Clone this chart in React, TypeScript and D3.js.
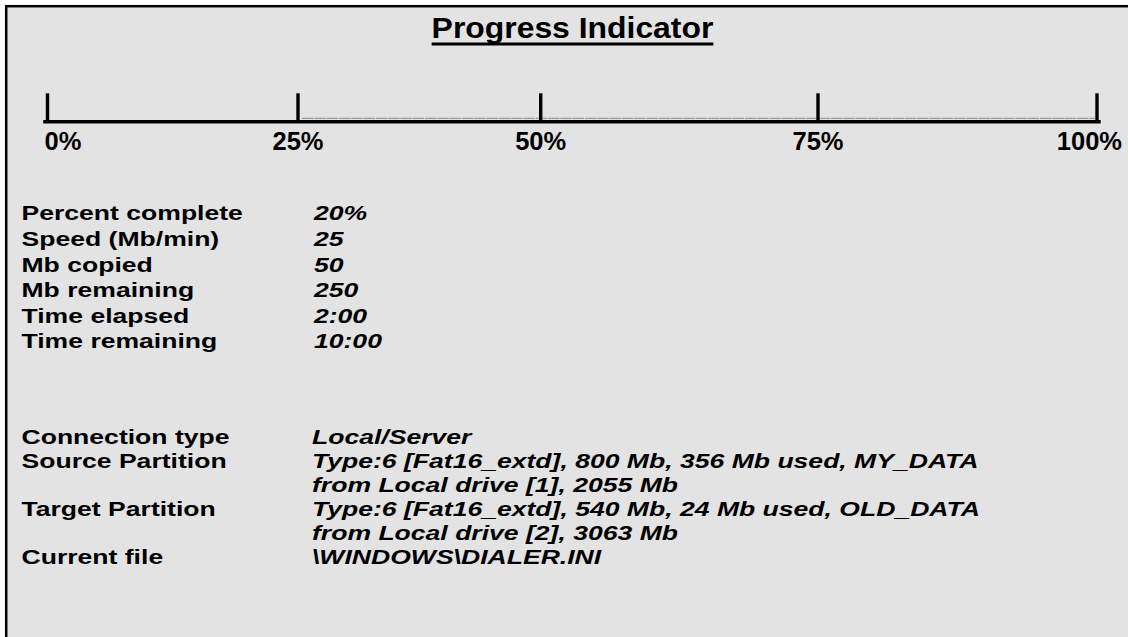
import React, { useEffect, useRef } from "react";
import * as d3 from "d3";

// ---- data ----
const TITLE = "Progress Indicator";
const tickValues = [0, 25, 50, 75, 100];
const tickLabels = ["0%", "25%", "50%", "75%", "100%"];
const statLabels = [
  "Percent complete",
  "Speed (Mb/min)",
  "Mb copied",
  "Mb remaining",
  "Time elapsed",
  "Time remaining",
];
const statValues = ["20%", "25", "50", "250", "2:00", "10:00"];
const infoLabels = [
  "Connection type",
  "Source Partition",
  "",
  "Target Partition",
  "",
  "Current file",
];
const infoValues = [
  "Local/Server",
  "Type:6 [Fat16_extd], 800 Mb, 356 Mb used, MY_DATA",
  "from Local drive [1], 2055 Mb",
  "Type:6 [Fat16_extd], 540 Mb, 24 Mb used, OLD_DATA",
  "from Local drive [2], 3063 Mb",
  "\\WINDOWS\\DIALER.INI",
];

// ---- layout ----
const W = 1128;
const H = 637;
const FONT = "Arial, 'Liberation Sans', Helvetica, sans-serif";
const tickRange = [47.5, 298, 540.7, 818, 1097];
const ROW_FONT = 21;
const ROW_SX = 1.265;
const TITLE_FONT = 29;
const TITLE_SX = 1.1;

export default function App() {
  const ref = useRef<SVGSVGElement | null>(null);

  useEffect(() => {
    const svg = d3.select(ref.current);
    svg.selectAll("*").remove();

    svg.append("rect").attr("x", 0).attr("y", 0).attr("width", W).attr("height", H).attr("fill", "#ffffff");
    // panel (frame extends beyond the visible area at right/bottom)
    svg
      .append("rect")
      .attr("x", 6.2)
      .attr("y", 6.2)
      .attr("width", W + 20)
      .attr("height", H + 20)
      .attr("fill", "#e3e3e3")
      .attr("stroke", "#000")
      .attr("stroke-width", 2.5);

    // title
    const titleX = 572.5;
    const title = svg
      .append("text")
      .attr("transform", `scale(${TITLE_SX},1)`)
      .attr("x", titleX / TITLE_SX)
      .attr("y", 38.3)
      .attr("text-anchor", "middle")
      .attr("font-family", FONT)
      .attr("font-weight", "bold")
      .attr("font-size", TITLE_FONT)
      .attr("fill", "#000")
      .text(TITLE);
    const tw = (title.node() as SVGTextElement).getComputedTextLength() * TITLE_SX;
    svg
      .append("line")
      .attr("x1", titleX - tw / 2)
      .attr("x2", titleX + tw / 2)
      .attr("y1", 44)
      .attr("y2", 44)
      .attr("stroke", "#000")
      .attr("stroke-width", 3);

    // progress scale
    const x = d3.scaleLinear().domain(tickValues).range(tickRange);
    const baseY = 121.8;
    const tickTop = 93.3;

    // faint underscore trace
    svg
      .append("line")
      .attr("x1", x(25) + 4)
      .attr("x2", x(100) - 2)
      .attr("y1", 118.3)
      .attr("y2", 118.3)
      .attr("stroke", "#9a9a9a")
      .attr("stroke-width", 1.2)
      .attr("stroke-dasharray", "11.5 0.8");

    svg
      .append("line")
      .attr("x1", x(0) - 4.3)
      .attr("x2", x(100) + 3.7)
      .attr("y1", baseY)
      .attr("y2", baseY)
      .attr("stroke", "#000")
      .attr("stroke-width", 3.6);

    svg
      .selectAll("line.tick")
      .data(tickValues)
      .join("line")
      .attr("class", "tick")
      .attr("x1", (d) => x(d))
      .attr("x2", (d) => x(d))
      .attr("y1", tickTop)
      .attr("y2", baseY)
      .attr("stroke", "#000")
      .attr("stroke-width", 3.4);

    const labels = svg
      .selectAll("text.tl")
      .data(tickValues)
      .join("text")
      .attr("class", "tl")
      .attr("y", 150)
      .attr("text-anchor", "middle")
      .attr("font-family", FONT)
      .attr("font-weight", "bold")
      .attr("font-size", 25.5)
      .attr("fill", "#000")
      .text((d, i) => tickLabels[i]);
    labels.attr("x", function (d) {
      const w = (this as SVGTextElement).getComputedTextLength();
      const minC = 44.5 + w / 2;
      const maxC = 1122 - w / 2;
      return Math.max(minC, Math.min(maxC, x(d)));
    });

    // statistics rows
    const labelX = 21.5;
    const statY = (i: number) => 220.5 + i * 25.6;
    const infoY = (i: number) => 444.5 + i * 23.9;

    const addRows = (
      lbls: string[],
      vals: string[],
      yFn: (i: number) => number,
      valX: number
    ) => {
      const g = svg.append("g").attr("transform", `scale(${ROW_SX},1)`);
      g.selectAll("text.lbl")
        .data(lbls)
        .join("text")
        .attr("class", "lbl")
        .attr("x", labelX / ROW_SX)
        .attr("y", (d, i) => yFn(i))
        .attr("font-family", FONT)
        .attr("font-weight", "bold")
        .attr("font-size", ROW_FONT)
        .attr("fill", "#000")
        .text((d) => d);
      g.selectAll("text.val")
        .data(vals)
        .join("text")
        .attr("class", "val")
        .attr("x", valX / ROW_SX)
        .attr("y", (d, i) => yFn(i))
        .attr("font-family", FONT)
        .attr("font-weight", "bold")
        .attr("font-style", "italic")
        .attr("font-size", ROW_FONT)
        .attr("fill", "#000")
        .text((d) => d);
    };

    addRows(statLabels, statValues, statY, 314);
    addRows(infoLabels, infoValues, infoY, 312);
  }, []);

  return (
    <svg
      ref={ref}
      width={W}
      height={H}
      style={{ position: "absolute", left: 0, top: 0, display: "block" }}
    />
  );
}
